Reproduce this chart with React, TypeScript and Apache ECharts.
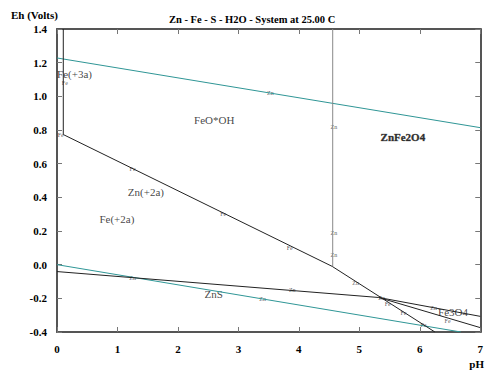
import React, { useEffect, useRef } from "react";
import * as echarts from "echarts";

// Boundary lines (pH, Eh)
const o2Line: number[][] = [[0, 1.228], [7, 0.814]];
const h2Line: number[][] = [[0, 0.0], [6.68, -0.4]];
const feVertical: number[][] = [[0.104, 1.4], [0.104, 0.773]];
const feDiagonal: number[][] = [[0.104, 0.773], [4.55, -0.01], [6.25, -0.4]];
const znVertical: number[][] = [[4.56, 1.4], [4.56, -0.01]];
const znsLine: number[][] = [[0, -0.041], [5.32, -0.195], [7, -0.307]];
const fe3o4Line: number[][] = [[5.32, -0.195], [7, -0.374]];

// Region labels
const regionNames = ["Fe(+3a)", "FeO*OH", "ZnFe2O4", "Zn(+2a)", "Fe(+2a)", "ZnS", "Fe3O4"];
const regionPH = [0.29, 2.6, 5.72, 1.47, 0.99, 2.59, 6.55];
const regionEh = [1.13, 0.858, 0.757, 0.43, 0.27, -0.176, -0.283];

// Small line markers
const markNames = ["Fe", "Fe", "Fe", "Fe", "Fe", "Zn", "Zn", "Zn", "Zn", "Zn", "Zn", "Zn", "Zn", "Zn", "Fe", "Fe", "Zn", "Fe", "Fe"];
const markPH = [0.13, 0.06, 1.25, 2.75, 3.85, 3.53, 4.58, 4.58, 4.58, 4.94, 1.25, 3.89, 3.4, 5.37, 5.47, 5.73, 6.23, 6.46, 6.06];
const markEh = [1.08, 0.77, 0.57, 0.3, 0.1, 1.02, 0.82, 0.19, 0.06, -0.11, -0.08, -0.15, -0.205, -0.2, -0.236, -0.29, -0.26, -0.337, -0.36];

const xTicks = { min: 0, max: 7, interval: 1 };
const yTicks = { min: -0.4, max: 1.4, interval: 0.2 };

const SERIF = "Liberation Serif";
const TEAL = "#2f9696";
const AXIS = "#555";

export default function App() {
  const ref = useRef<HTMLDivElement>(null);
  useEffect(() => {
    document.body.style.margin = "0";
    if (!ref.current) return;
    const chart = echarts.init(ref.current, null, { renderer: "svg" });
    const line = (data: number[][], color: string) => ({
      type: "line",
      data,
      symbol: "none",
      silent: true,
      lineStyle: { color, width: 1 },
      xAxisIndex: 0,
      yAxisIndex: 0,
    });
    const axisLineStyle = { show: true, onZero: false, lineStyle: { color: AXIS, width: 2 } };
    const tickStyle = { show: true, inside: true, length: 5, lineStyle: { color: "#777", width: 1 } };
    const labelStyle = { fontFamily: SERIF, fontWeight: "bold", fontSize: 11, color: "#000" };
    chart.setOption({
      animation: false,
      backgroundColor: "#fff",
      grid: { left: 57, top: 29, right: 4, bottom: 40, containLabel: false },
      title: {
        text: "Zn - Fe - S - H2O - System at 25.00 C",
        left: 164,
        top: 9,
        textStyle: { fontFamily: SERIF, fontWeight: "bold", fontSize: 10.5, color: "#000" },
      },
      xAxis: [
        {
          type: "value",
          ...xTicks,
          position: "bottom",
          axisLine: axisLineStyle,
          axisTick: tickStyle,
          splitLine: { show: false },
          axisLabel: { ...labelStyle, margin: 11, formatter: (v: number) => String(Math.round(v)) },
        },
        {
          type: "value",
          ...xTicks,
          position: "top",
          axisLine: axisLineStyle,
          axisTick: tickStyle,
          splitLine: { show: false },
          axisLabel: { show: false },
        },
      ],
      yAxis: [
        {
          type: "value",
          ...yTicks,
          position: "left",
          axisLine: axisLineStyle,
          axisTick: tickStyle,
          splitLine: { show: false },
          axisLabel: {
            ...labelStyle,
            margin: 10,
            formatter: (v: number) => (Math.abs(v) < 1e-9 ? "0.0" : v.toFixed(1)),
          },
        },
        {
          type: "value",
          ...yTicks,
          position: "right",
          axisLine: axisLineStyle,
          axisTick: tickStyle,
          splitLine: { show: false },
          axisLabel: { show: false },
        },
      ],
      graphic: [
        {
          type: "text",
          left: 11,
          top: 9,
          style: { text: "Eh (Volts)", fontFamily: SERIF, fontWeight: "bold", fontSize: 11, fill: "#000" },
        },
        {
          type: "text",
          right: 2,
          top: 358,
          style: { text: "pH", fontFamily: SERIF, fontWeight: "bold", fontSize: 11, fill: "#000" },
        },
      ],
      series: [
        line(o2Line, TEAL),
        line(h2Line, TEAL),
        line(feVertical, "#222"),
        line(feDiagonal, "#222"),
        line(znVertical, "#888"),
        line(znsLine, "#222"),
        line(fe3o4Line, "#222"),
        {
          type: "scatter",
          silent: true,
          symbolSize: 0,
          itemStyle: { color: "#333" },
          data: markNames.map((n, i) => ({ name: n, value: [markPH[i], markEh[i]] })),
          label: {
            show: true,
            position: "inside",
            formatter: "{b}",
            fontFamily: SERIF,
            fontSize: 6,
            color: "#333",
            textBorderWidth: 0,
          },
        },
        {
          type: "scatter",
          silent: true,
          symbolSize: 0,
          itemStyle: { color: "#111" },
          data: regionNames.map((n, i) => ({
            name: n,
            value: [regionPH[i], regionEh[i]],
            label: n === "ZnFe2O4" ? { fontWeight: "bold", color: "#000", textBorderColor: "#777", textBorderWidth: 0.6 } : undefined,
          })),
          label: {
            show: true,
            position: "inside",
            formatter: "{b}",
            fontFamily: SERIF,
            fontSize: 11,
            color: "#111",
            textBorderWidth: 0,
          },
        },
      ],
    });
    return () => chart.dispose();
  }, []);
  return <div ref={ref} style={{ width: 486, height: 372 }} />;
}
